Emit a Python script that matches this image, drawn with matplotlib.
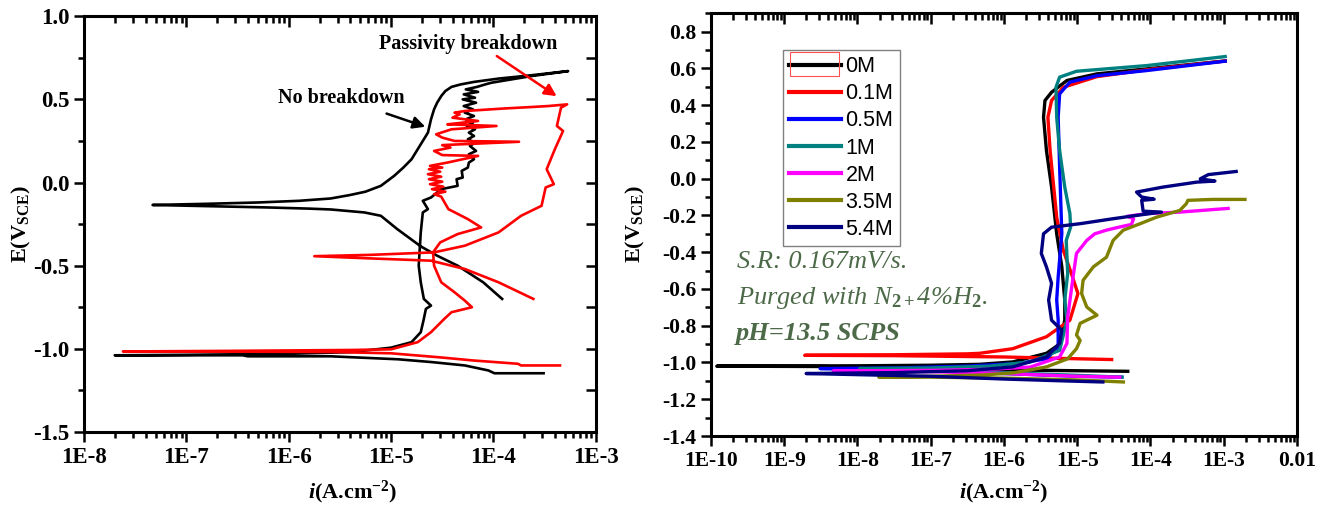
import numpy as np
import matplotlib
matplotlib.use('Agg')
import matplotlib.pyplot as plt
from matplotlib.ticker import FixedLocator, FuncFormatter, MultipleLocator, LogLocator, NullFormatter
from matplotlib.patches import Rectangle

plt.rcParams['font.family'] = ['Liberation Serif', 'DejaVu Serif']
plt.rcParams['mathtext.fontset'] = 'custom'
plt.rcParams['mathtext.rm'] = 'Liberation Serif:bold'
plt.rcParams['mathtext.it'] = 'Liberation Serif:italic'
plt.rcParams['mathtext.bf'] = 'Liberation Serif:bold'
plt.rcParams['mathtext.bfit'] = 'Liberation Serif:bold:italic'

# ---------------- left panel data (log10 i, E) ----------------
black_logi = [-3.51, -3.99, -4.05, -4.28, -4.6, -4.93, -5.59, -6.4, -6.45, -7.7,
              -7.0, -6.0, -5.4, -5.0, -4.80, -4.71, -4.68, -4.66, -4.61, -4.68, -4.71, -4.73, -4.72, -4.71,
              -4.69, -4.64, -4.69, -4.61, -4.51, -4.35, -4.36, -4.30, -4.31, -4.25, -4.24,
              -4.19, -4.24, -4.17, -4.23, -4.18, -4.25, -4.19, -4.24, -4.18, -4.26, -4.20, -4.27, -4.19,
              -4.28, -4.20, -4.29, -4.17, -4.30, -4.18, -4.29, -4.15, -4.27, -4.16, -4.08, -4.02, -3.63, -3.27,
              -3.63, -3.95, -4.19, -4.32, -4.41, -4.47, -4.51, -4.55, -4.58, -4.61, -4.64, -4.68, -4.74,
              -4.80, -4.88, -4.97, -5.10, -5.25, -5.40, -5.59, -5.9, -6.3, -6.8, -7.33,
              -6.8, -6.2, -5.8, -5.59, -5.26, -5.1, -4.94, -4.71, -4.55, -4.35, -4.1, -3.915]
black_E = [-1.147, -1.147, -1.13, -1.10, -1.08, -1.063, -1.045, -1.045, -1.039, -1.039,
           -1.036, -1.03, -1.02, -0.993, -0.96, -0.90, -0.82, -0.76, -0.74, -0.70, -0.60, -0.50, -0.40, -0.30,
           -0.18, -0.16, -0.11, -0.09, -0.04, -0.02, 0.02, 0.03, 0.07, 0.09, 0.12,
           0.14, 0.17, 0.19, 0.22, 0.24, 0.26, 0.28, 0.30, 0.32, 0.34, 0.36, 0.38, 0.40,
           0.42, 0.44, 0.46, 0.48, 0.50, 0.51, 0.53, 0.545, 0.56, 0.575, 0.59, 0.60, 0.64, 0.67,
           0.645, 0.625, 0.605, 0.59, 0.575, 0.55, 0.52, 0.48, 0.44, 0.38, 0.30, 0.26, 0.20,
           0.14, 0.09, 0.04, -0.02, -0.055, -0.075, -0.096, -0.11, -0.12, -0.128, -0.135,
           -0.142, -0.150, -0.157, -0.162, -0.18, -0.20, -0.28, -0.384, -0.44, -0.50, -0.60, -0.70]

red_logi = [-3.35, -3.73, -3.76, -4.2, -4.51, -5.0, -5.59, -6.5, -7.62,
            -6.5, -5.39, -5.0, -4.74, -4.61, -4.48, -4.41, -4.21, -4.28, -4.38, -4.51, -4.58, -4.59, -4.52, -4.35,
            -4.12, -4.25, -4.44, -4.51,
            -4.58, -4.47, -4.60, -4.49, -4.62, -4.50, -4.63, -4.51, -4.64, -4.52, -4.63, -4.50, -4.62, -4.45,
            -4.15, -4.50, -4.58, -4.42, -4.50, -3.75, -4.38, -4.50, -4.56, -4.41, -3.97, -4.45, -4.30, -4.15,
            -4.40, -4.33, -4.38, -4.28, -3.9, -3.6, -3.46, -3.28,
            -3.34, -3.38, -3.32, -3.40, -3.48, -3.41, -3.49, -3.53, -3.73, -3.95, -4.28, -4.58, -5.2, -5.75,
            -5.26, -4.61, -4.28, -3.95, -3.61]
red_E = [-1.10, -1.10, -1.09, -1.07, -1.052, -1.027, -1.019, -1.017, -1.016,
         -1.012, -1.007, -1.003, -0.96, -0.90, -0.82, -0.78, -0.75, -0.71, -0.66, -0.60, -0.50, -0.42, -0.36, -0.31,
         -0.27, -0.22, -0.16, -0.085,
         -0.07, -0.055, -0.04, -0.025, -0.01, 0.005, 0.02, 0.035, 0.05, 0.065, 0.08, 0.09, 0.10, 0.12,
         0.16, 0.165, 0.19, 0.21, 0.225, 0.245, 0.25, 0.27, 0.29, 0.32, 0.34, 0.35, 0.36, 0.37,
         0.39, 0.41, 0.42, 0.43, 0.445, 0.455, 0.46, 0.47,
         0.45, 0.34, 0.31, 0.20, 0.08, -0.01, -0.03, -0.14, -0.20, -0.30, -0.38, -0.42, -0.435, -0.443,
         -0.455, -0.47, -0.52, -0.60, -0.70]

# ---------------- right panel data (log10 i, E) ----------------
labels = ['0M', '0.1M', '0.5M', '1M', '2M', '3.5M', '5.4M']
colors = ['black', 'red', 'blue', '#008080', 'magenta', '#808000', '#000080']

m0_logi = [-4.31, -5.0, -6.0, -7.0, -8.5, -9.92, -8.0, -7.0, -6.33, -5.88, -5.42, -5.24, -5.17, -5.17,
           -5.21, -5.28, -5.35, -5.42, -5.46, -5.44, -5.35, -5.14, -4.73, -4.05, -2.98]
m0_E = [-1.048, -1.045, -1.04, -1.03, -1.022, -1.02, -1.018, -1.015, -1.01, -0.997, -0.95, -0.90, -0.77, -0.66,
        -0.48, -0.30, -0.046, 0.153, 0.334, 0.425, 0.47, 0.534, 0.57, 0.597, 0.64]

m01_logi = [-4.53, -5.2, -6.0, -7.5, -8.72, -7.5, -6.5, -6.33, -5.88, -5.42, -5.10, -4.99, -5.08, -5.19,
            -5.28, -5.37, -5.40, -5.35, -5.19, -4.73, -4.05, -2.98]
m01_E = [-0.984, -0.978, -0.97, -0.963, -0.961, -0.958, -0.953, -0.95, -0.925, -0.86, -0.77, -0.625, -0.516,
         -0.39, -0.21, 0.153, 0.334, 0.425, 0.497, 0.555, 0.592, 0.64]

m05_logi = [-4.39, -5.0, -6.0, -7.0, -8.51, -7.5, -6.5, -5.8, -5.42, -5.26, -5.26, -5.28, -5.26, -5.21,
            -5.24, -5.26, -5.24, -5.10, -4.73, -4.05, -2.98]
m05_E = [-1.08, -1.075, -1.06, -1.045, -1.033, -1.03, -1.02, -1.005, -0.98, -0.916, -0.77, -0.66, -0.535,
         -0.30, 0.063, 0.334, 0.461, 0.525, 0.56, 0.588, 0.639]

m1_logi = [-4.39, -5.0, -6.0, -7.0, -7.97, -7.0, -6.2, -5.64, -5.24, -5.14, -5.17, -5.13, -5.15, -5.09,
           -5.10, -5.17, -5.24, -5.28, -5.29, -5.24, -5.01, -4.05, -2.98]
m1_E = [-1.08, -1.07, -1.055, -1.04, -1.033, -1.03, -1.02, -0.997, -0.934, -0.77, -0.66, -0.516, -0.336,
        -0.264, -0.19, -0.046, 0.153, 0.334, 0.497, 0.552, 0.584, 0.615, 0.664]

m2_logi = [-4.42, -5.0, -6.0, -7.0, -8.33, -7.0, -6.2, -5.64, -5.24, -5.14, -5.13, -5.05, -5.01, -4.87,
           -4.76, -4.60, -4.42, -4.26, -4.23, -4.32, -4.05, -3.60, -2.94]
m2_E = [-1.08, -1.075, -1.06, -1.05, -1.046, -1.043, -1.037, -1.025, -0.97, -0.896, -0.753, -0.516, -0.407,
        -0.336, -0.30, -0.28, -0.263, -0.249, -0.218, -0.205, -0.19, -0.182, -0.162]

m35_logi = [-4.37, -5.0, -6.0, -7.0, -7.71, -7.0, -6.3, -5.88, -5.42, -5.13, -5.01, -4.96, -5.01, -4.96,
            -4.73, -4.87, -4.94, -4.92, -4.78, -4.60, -4.51, -4.37, -4.14, -3.92, -3.60, -3.51, -3.49,
            -3.15, -2.71]
m35_E = [-1.106, -1.095, -1.085, -1.08, -1.079, -1.075, -1.068, -1.057, -1.024, -0.98, -0.925, -0.88, -0.85,
         -0.787, -0.743, -0.698, -0.625, -0.553, -0.48, -0.427, -0.336, -0.28, -0.245, -0.21, -0.173,
         -0.136, -0.118, -0.113, -0.113]

m54_logi = [-4.65, -5.2, -6.0, -7.0, -8.70, -7.5, -6.5, -5.88, -5.42, -5.24, -5.21, -5.35, -5.39, -5.35,
            -5.42, -5.49, -5.46, -5.35, -4.96, -4.51, -4.19, -3.85, -4.10, -4.12, -3.95, -4.12, -4.19,
            -3.83, -3.37, -3.12, -3.32, -3.21, -2.83]
m54_E = [-1.106, -1.10, -1.09, -1.075, -1.06, -1.055, -1.045, -1.024, -0.97, -0.896, -0.825, -0.77, -0.66,
         -0.57, -0.48, -0.407, -0.30, -0.264, -0.245, -0.218, -0.20, -0.182, -0.177, -0.118, -0.112,
         -0.10, -0.073, -0.046, -0.019, -0.013, -0.001, 0.022, 0.039]

right_series = [(m0_logi, m0_E), (m01_logi, m01_E), (m05_logi, m05_E), (m1_logi, m1_E),
                (m2_logi, m2_E), (m35_logi, m35_E), (m54_logi, m54_E)]

left_xticks = [1e-8, 1e-7, 1e-6, 1e-5, 1e-4, 1e-3]
left_xticklabels = ['1E-8', '1E-7', '1E-6', '1E-5', '1E-4', '1E-3']
right_xticks = [1e-10, 1e-9, 1e-8, 1e-7, 1e-6, 1e-5, 1e-4, 1e-3, 1e-2]
right_xticklabels = ['1E-10', '1E-9', '1E-8', '1E-7', '1E-6', '1E-5', '1E-4', '1E-3', '0.01']


def tick_name(ticks, names):
    def f(v, p):
        k = int(np.argmin([abs(np.log10(t) - np.log10(v)) for t in ticks]))
        return names[k]
    return f


def setup(ax, xticks, xnames, ymaj, ymin, fs, right_ticks):
    ax.set_xscale('log')
    ax.xaxis.set_major_locator(FixedLocator(xticks))
    ax.xaxis.set_major_formatter(FuncFormatter(tick_name(xticks, xnames)))
    ax.xaxis.set_minor_locator(LogLocator(base=10, subs=np.arange(2, 10), numticks=20))
    ax.xaxis.set_minor_formatter(NullFormatter())
    ax.yaxis.set_major_locator(MultipleLocator(ymaj))
    ax.yaxis.set_minor_locator(MultipleLocator(ymin))
    ax.yaxis.set_major_formatter(FuncFormatter(lambda v, p: '%.1f' % v))
    for s in ax.spines.values():
        s.set_linewidth(2.2)
    ax.tick_params(which='both', direction='out', width=1.8, labelsize=fs, top=False, right=False)
    ax.tick_params(which='major', length=7)
    ax.tick_params(which='minor', length=4)
    for lab in ax.get_xticklabels() + ax.get_yticklabels():
        lab.set_fontweight('bold')
    # inward ticks on the top (and right) spine
    top = ax.secondary_xaxis('top')
    top.xaxis.set_major_locator(FixedLocator(xticks))
    top.xaxis.set_minor_locator(LogLocator(base=10, subs=np.arange(2, 10), numticks=20))
    top.tick_params(which='both', direction='in', width=1.8, labeltop=False)
    top.tick_params(which='major', length=8)
    top.tick_params(which='minor', length=5)
    if right_ticks:
        rt = ax.secondary_yaxis('right')
        rt.yaxis.set_major_locator(MultipleLocator(ymin))
        rt.tick_params(which='both', direction='in', width=1.8, length=7, labelright=False)


fig = plt.figure(figsize=(13.19, 5.07), dpi=100)
ax1 = fig.add_axes([0.0637, 0.148, 0.388, 0.820])
ax2 = fig.add_axes([0.539, 0.140, 0.4443, 0.834])

# ---------------- left panel ----------------
ax1.plot(10 ** np.array(black_logi), black_E, color='black', lw=1.9)
ax1.plot(10 ** np.array(red_logi), red_E, color='red', lw=1.9)
ax1.set_xscale('log')
ax1.set_xlim(1e-8, 1e-3)
ax1.set_ylim(-1.5, 1.0)
setup(ax1, left_xticks, left_xticklabels, 0.5, 0.25, 16.5, True)

ax1.set_xlabel(r'$\mathbfit{i}$(A.cm$^{-2}$)', fontsize=16, fontweight='bold')
ax1.set_ylabel(r'E(V$_{\mathrm{SCE}}$)', fontsize=16, fontweight='bold')
ax1.xaxis.set_label_coords(0.525, -0.112)
ax1.yaxis.set_label_coords(-0.10, 0.5)

ax1.annotate('', xy=(10 ** -4.64, 0.33), xytext=(10 ** -5.07, 0.42),
             arrowprops=dict(arrowstyle='-|>', color='black', lw=1.8, mutation_scale=18))
ax1.text(10 ** -5.49, 0.51, 'No breakdown', fontsize=14.5, fontweight='bold', ha='center', va='center')
ax1.annotate('', xy=(10 ** -3.36, 0.51), xytext=(10 ** -3.99, 0.77),
             arrowprops=dict(arrowstyle='-|>', color='red', lw=1.8, mutation_scale=18))
ax1.text(10 ** -4.25, 0.83, 'Passivity breakdown', fontsize=14.5, fontweight='bold', ha='center', va='center')

# ---------------- right panel ----------------
for (lg, ev), lab, col in zip(right_series, labels, colors):
    ax2.plot(10 ** np.array(lg), ev, color=col, lw=2.4, label=lab)
ax2.set_xscale('log')
ax2.set_xlim(1e-10, 1e-2)
ax2.set_ylim(-1.4, 0.9)
setup(ax2, right_xticks, right_xticklabels, 0.2, 0.1, 15.5, False)

ax2.set_xlabel(r'$\mathbfit{i}$(A.cm$^{-2}$)', fontsize=16, fontweight='bold')
ax2.set_ylabel(r'E(V$_{\mathrm{SCE}}$)', fontsize=16, fontweight='bold')
ax2.xaxis.set_label_coords(0.50, -0.102)
ax2.yaxis.set_label_coords(-0.109, 0.5)

leg = ax2.legend(loc='upper left', bbox_to_anchor=(0.123, 0.913), prop={'family': 'Liberation Sans', 'size': 15.5},
                 frameon=True, fancybox=False, edgecolor='gray', framealpha=1, handlelength=2.4,
                 handletextpad=0.2, labelspacing=0.28, borderpad=0.3, borderaxespad=0)
leg.get_frame().set_linewidth(1.0)
for h in leg.get_lines():
    h.set_linewidth(3)
fig.add_artist(Rectangle((790 / 1319, 1 - 76 / 507), 49 / 1319, 24 / 507, transform=fig.transFigure,
                         fill=False, ec='#ff5050', lw=0.8))

txt_col = '#4d6a48'
ax2.text(10 ** -9.645, -0.455, 'S.R: 0.167mV/s.', fontsize=19, fontstyle='italic', color=txt_col,
         ha='left', va='center')
ax2.text(10 ** -9.645, -0.651, r'Purged with N$_{\mathit{2+}}$4%H$_{\mathit{2}}$.', fontsize=19,
         fontstyle='italic', color=txt_col, ha='left', va='center')
ax2.text(10 ** -9.66, -0.841, 'pH=13.5 SCPS', fontsize=19, fontstyle='italic', fontweight='bold',
         color=txt_col, ha='left', va='center')

fig.savefig('out.png', dpi=100)
